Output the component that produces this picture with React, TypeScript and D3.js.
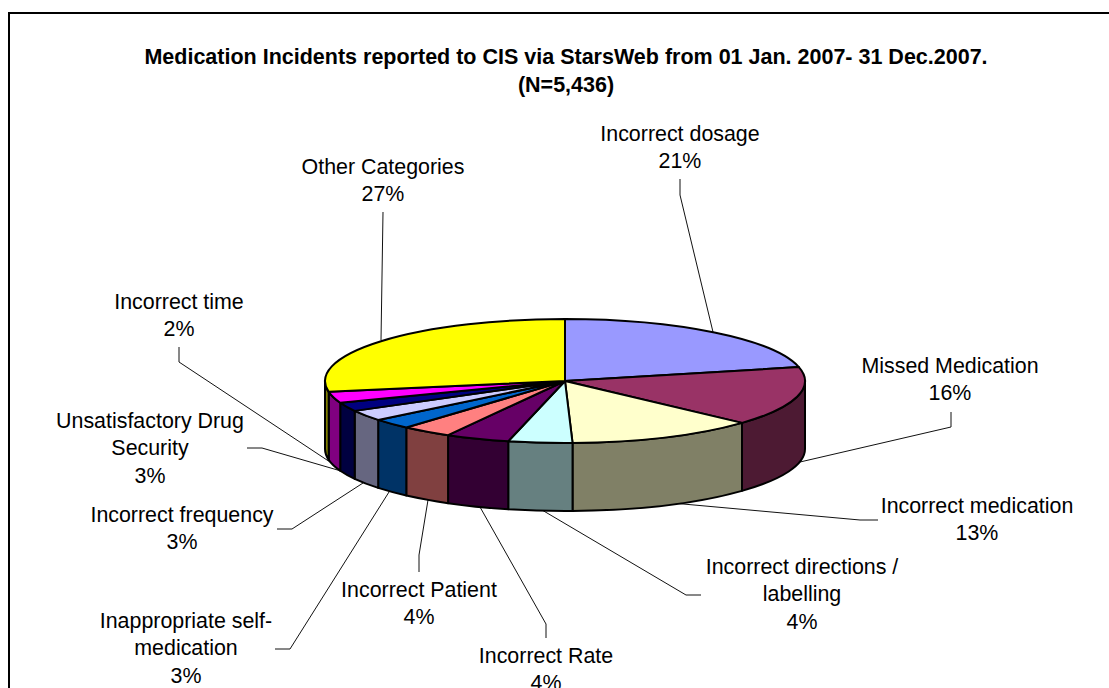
import React from "react";
import * as d3 from "d3";

const categories = ["Incorrect dosage","Missed Medication","Incorrect medication","Incorrect directions / labelling","Incorrect Rate","Incorrect Patient","Inappropriate self-medication","Incorrect frequency","Unsatisfactory Drug Security","Incorrect time","Other Categories"];
const sliceValues = [21.4,15.4,12.7,4.3,4.3,3.4,2.7,2.8,2.3,2.9,27.8];
const percentLabels = ["21%","16%","13%","4%","4%","4%","3%","3%","3%","2%","27%"];
const sliceColors = ["#9999FF","#993366","#FFFFCC","#CCFFFF","#660066","#FF8080","#0066CC","#CCCCFF","#000080","#FF00FF","#FFFF00"];
const labelLines = [["Incorrect dosage"],["Missed Medication"],["Incorrect medication"],["Incorrect directions /","labelling"],["Incorrect Rate"],["Incorrect Patient"],["Inappropriate self-","medication"],["Incorrect frequency"],["Unsatisfactory Drug","Security"],["Incorrect time"],["Other Categories"]];
const titleLines = ["Medication Incidents reported to CIS via StarsWeb from 01 Jan. 2007- 31 Dec.2007.","(N=5,436)"];

const labelAnchors: [number, number][] = [[680,141],[950,373],[977,513],[802,574],[546,663],[419,597],[186,628],[182,522],[150,428],[179,309],[383,174]];
const leaders: [number, number][][] = [
  [[680,179],[680,195],[713,332]],
  [[951,412],[951,427],[800,462]],
  [[878,520],[860,520],[672,503]],
  [[701,595],[686,595],[542,510]],
  [[546,638],[546,624],[480,507]],
  [[419,572],[419,555],[428,500]],
  [[275,649],[290,649],[389,492]],
  [[277,529],[292,529],[363,483]],
  [[247,448],[262,448],[341,471]],
  [[179,347],[179,362],[330,462]],
  [[383,212],[381,340]],
];

const W = 1109, H = 688, cx = 565, cy = 381, rx = 240, ry = 62, depth = 68;
const FONT = "'Liberation Sans', Arial, sans-serif";
const px = (a: number) => cx + rx * Math.sin(a);
const py = (a: number, dy = 0) => cy - ry * Math.cos(a) + dy;
const arcTo = (a0: number, a1: number, dy = 0, sweep = 1) =>
  `A${rx} ${ry} 0 ${Math.abs(a1 - a0) > Math.PI ? 1 : 0} ${sweep} ${px(a1)} ${py(a1, dy)}`;

export default function App() {
  const arcs = d3.pie<number>().sort(null).startAngle(0).endAngle(2 * Math.PI)(sliceValues);
  const line = d3.line();
  const shade = (c: string) => {
    const r = d3.rgb(c);
    return d3.rgb(Math.round(r.r * 0.5), Math.round(r.g * 0.5), Math.round(r.b * 0.5)).formatHex();
  };
  const sides = arcs.map((a, i) => {
    const s = Math.max(a.startAngle, Math.PI / 2), e = Math.min(a.endAngle, (3 * Math.PI) / 2);
    if (e <= s) return null;
    const d = `M${px(s)} ${py(s)}${arcTo(s, e)}L${px(e)} ${py(e, depth)}${arcTo(e, s, depth, 0)}Z`;
    return <path key={i} d={d} fill={shade(sliceColors[i])} stroke="#000" strokeWidth={2} strokeLinejoin="round" />;
  });
  return (
    <svg width={W} height={H} viewBox={`0 0 ${W} ${H}`} style={{ position: "absolute", left: 0, top: 0, background: "#fff" }} fontFamily={FONT}>
      <path d={`M9 ${H}V13H${W}`} fill="none" stroke="#000" strokeWidth={2} />
      {titleLines.map((t, i) => (
        <text key={t} x={566} y={64 + i * 28} textAnchor="middle" fontWeight="bold" fontSize={21.5} fill="#000">{t}</text>
      ))}
      {leaders.map((l, i) => (
        <path key={i} d={line(l) ?? ""} fill="none" stroke="#111" strokeWidth={1} />
      ))}
      {sides}
      {arcs.map((a, i) => (
        <path key={categories[i]} d={`M${cx} ${cy}L${px(a.startAngle)} ${py(a.startAngle)}${arcTo(a.startAngle, a.endAngle)}Z`}
          fill={sliceColors[i]} stroke="#000" strokeWidth={2} strokeLinejoin="round" />
      ))}
      {labelLines.map((lines, i) => (
        <text key={i} x={labelAnchors[i][0]} y={labelAnchors[i][1]} textAnchor="middle" fontSize={21.4} fill="#000">
          {[...lines, percentLabels[i]].map((t, j) => (
            <tspan key={j} x={labelAnchors[i][0]} dy={j === 0 ? 0 : 27.4}>{t}</tspan>
          ))}
        </text>
      ))}
    </svg>
  );
}
